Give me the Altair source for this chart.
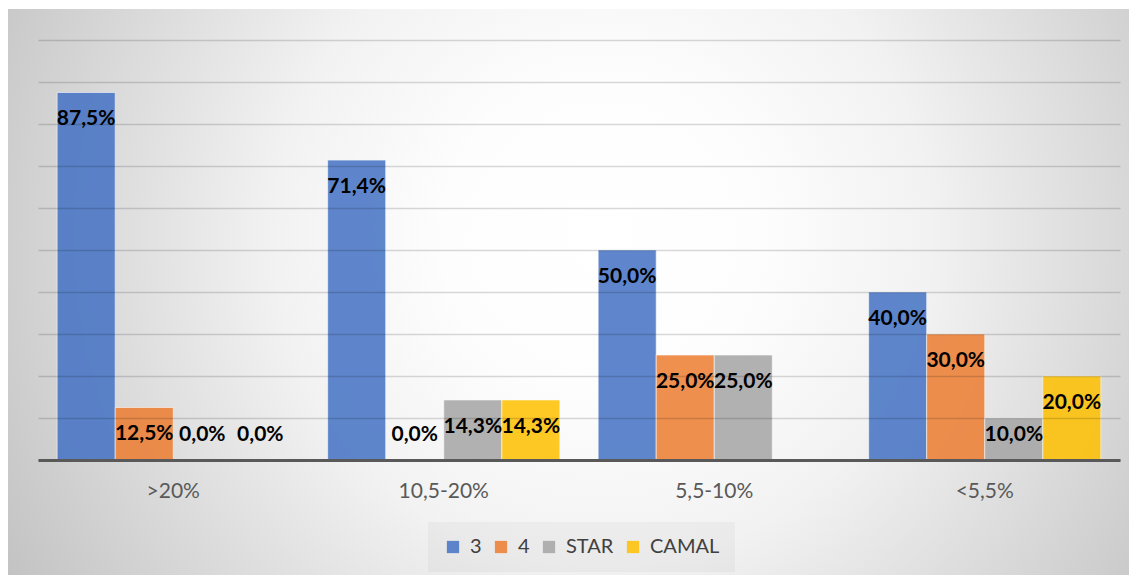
import altair as alt
import pandas as pd

categories = [">20%", "10,5-20%", "5,5-10%", "<5,5%"]
series = ["3", "4", "STAR", "CAMAL"]
values_3 = [87.5, 71.4, 50.0, 40.0]
values_4 = [12.5, 0.0, 25.0, 30.0]
values_star = [0.0, 14.3, 25.0, 10.0]
values_camal = [0.0, 14.3, None, 20.0]
colors = ["#4472C4", "#ED7D31", "#A5A5A5", "#FFC000"]

rows = []
for s, vals in zip(series, [values_3, values_4, values_star, values_camal]):
    for c, v in zip(categories, vals):
        if v is not None:
            rows.append({"cat": c, "series": s, "v": v})
df = pd.DataFrame(rows)

W, H = 1082, 420
PAD = {"left": 30, "top": 32, "right": 9, "bottom": 115}

x_enc = alt.X(
    "cat:N", sort=categories, title=None,
    scale=alt.Scale(paddingInner=0, paddingOuter=0),
    axis=alt.Axis(labelFont="Lato", labelFontSize=21, labelColor="#595959",
                  labelPadding=20, ticks=False, domainColor="#595959",
                  domainWidth=3, labelAngle=0, grid=False, zindex=2),
)
xoff = alt.XOffset("series:N", sort=series,
                   scale=alt.Scale(domain=series, paddingInner=0, paddingOuter=0.33))
y_scale = alt.Scale(domain=[0, 100])

bg = alt.Chart(alt.Data(values=[{"k": 0}])).mark_rect(
    fill=alt.RadialGradient(
        gradient="radial",
        stops=[alt.GradientStop(color="#ffffff", offset=0),
               alt.GradientStop(color="#fdfdfd", offset=0.22),
               alt.GradientStop(color="#f2f2f2", offset=0.45),
               alt.GradientStop(color="#bdbdbd", offset=1)],
        x1=0.53, y1=0.45, r1=0, x2=0.53, y2=0.45, r2=0.65,
    )
).encode(
    x=alt.value(-PAD["left"]), x2=alt.value(W + PAD["right"]),
    y=alt.value(-31), y2=alt.value(H + PAD["bottom"]),
)

base = alt.Chart(df)

bars = base.mark_bar(opacity=0.85, stroke="#ffffff", strokeWidth=1, strokeOpacity=0.6).encode(
    x=x_enc,
    xOffset=xoff,
    y=alt.Y("v:Q", scale=y_scale,
            axis=alt.Axis(values=list(range(0, 101, 10)), labels=False, ticks=False,
                          domain=False, title=None, gridColor="#000000",
                          gridOpacity=0.15, gridWidth=1.5, zindex=1)),
    color=alt.Color("series:N", sort=series,
                    scale=alt.Scale(domain=series, range=colors),
                    legend=alt.Legend(title=None, orient="none", direction="horizontal",
                                      legendX=390, legendY=482)),
)

text = base.mark_text(font="Lato", fontSize=21, fontWeight="bold", color="#000000",
                      baseline="middle").transform_calculate(
    ly="max(datum.v - 6.4, 6)",
    lbl="replace(format(datum.v, '.1f'), '.', ',') + '%'",
).encode(
    x=x_enc,
    xOffset=xoff,
    y=alt.Y("ly:Q", scale=y_scale),
    text="lbl:N",
)

chart = alt.layer(bg, bars, text).properties(
    width=W, height=H, padding=PAD,
    autosize=alt.AutoSizeParams(type="none"),
).configure_view(stroke=None).configure_legend(
    labelFont="Lato", labelFontSize=20, labelColor="#404040",
    symbolType="square", symbolSize=150, symbolOpacity=0.85, symbolStrokeWidth=0,
    columnPadding=9, labelOffset=7, padding=15,
    fillColor="rgba(0,0,0,0.03)",
)

chart.save("out.html", embed_options={"renderer": "svg", "actions": False})
